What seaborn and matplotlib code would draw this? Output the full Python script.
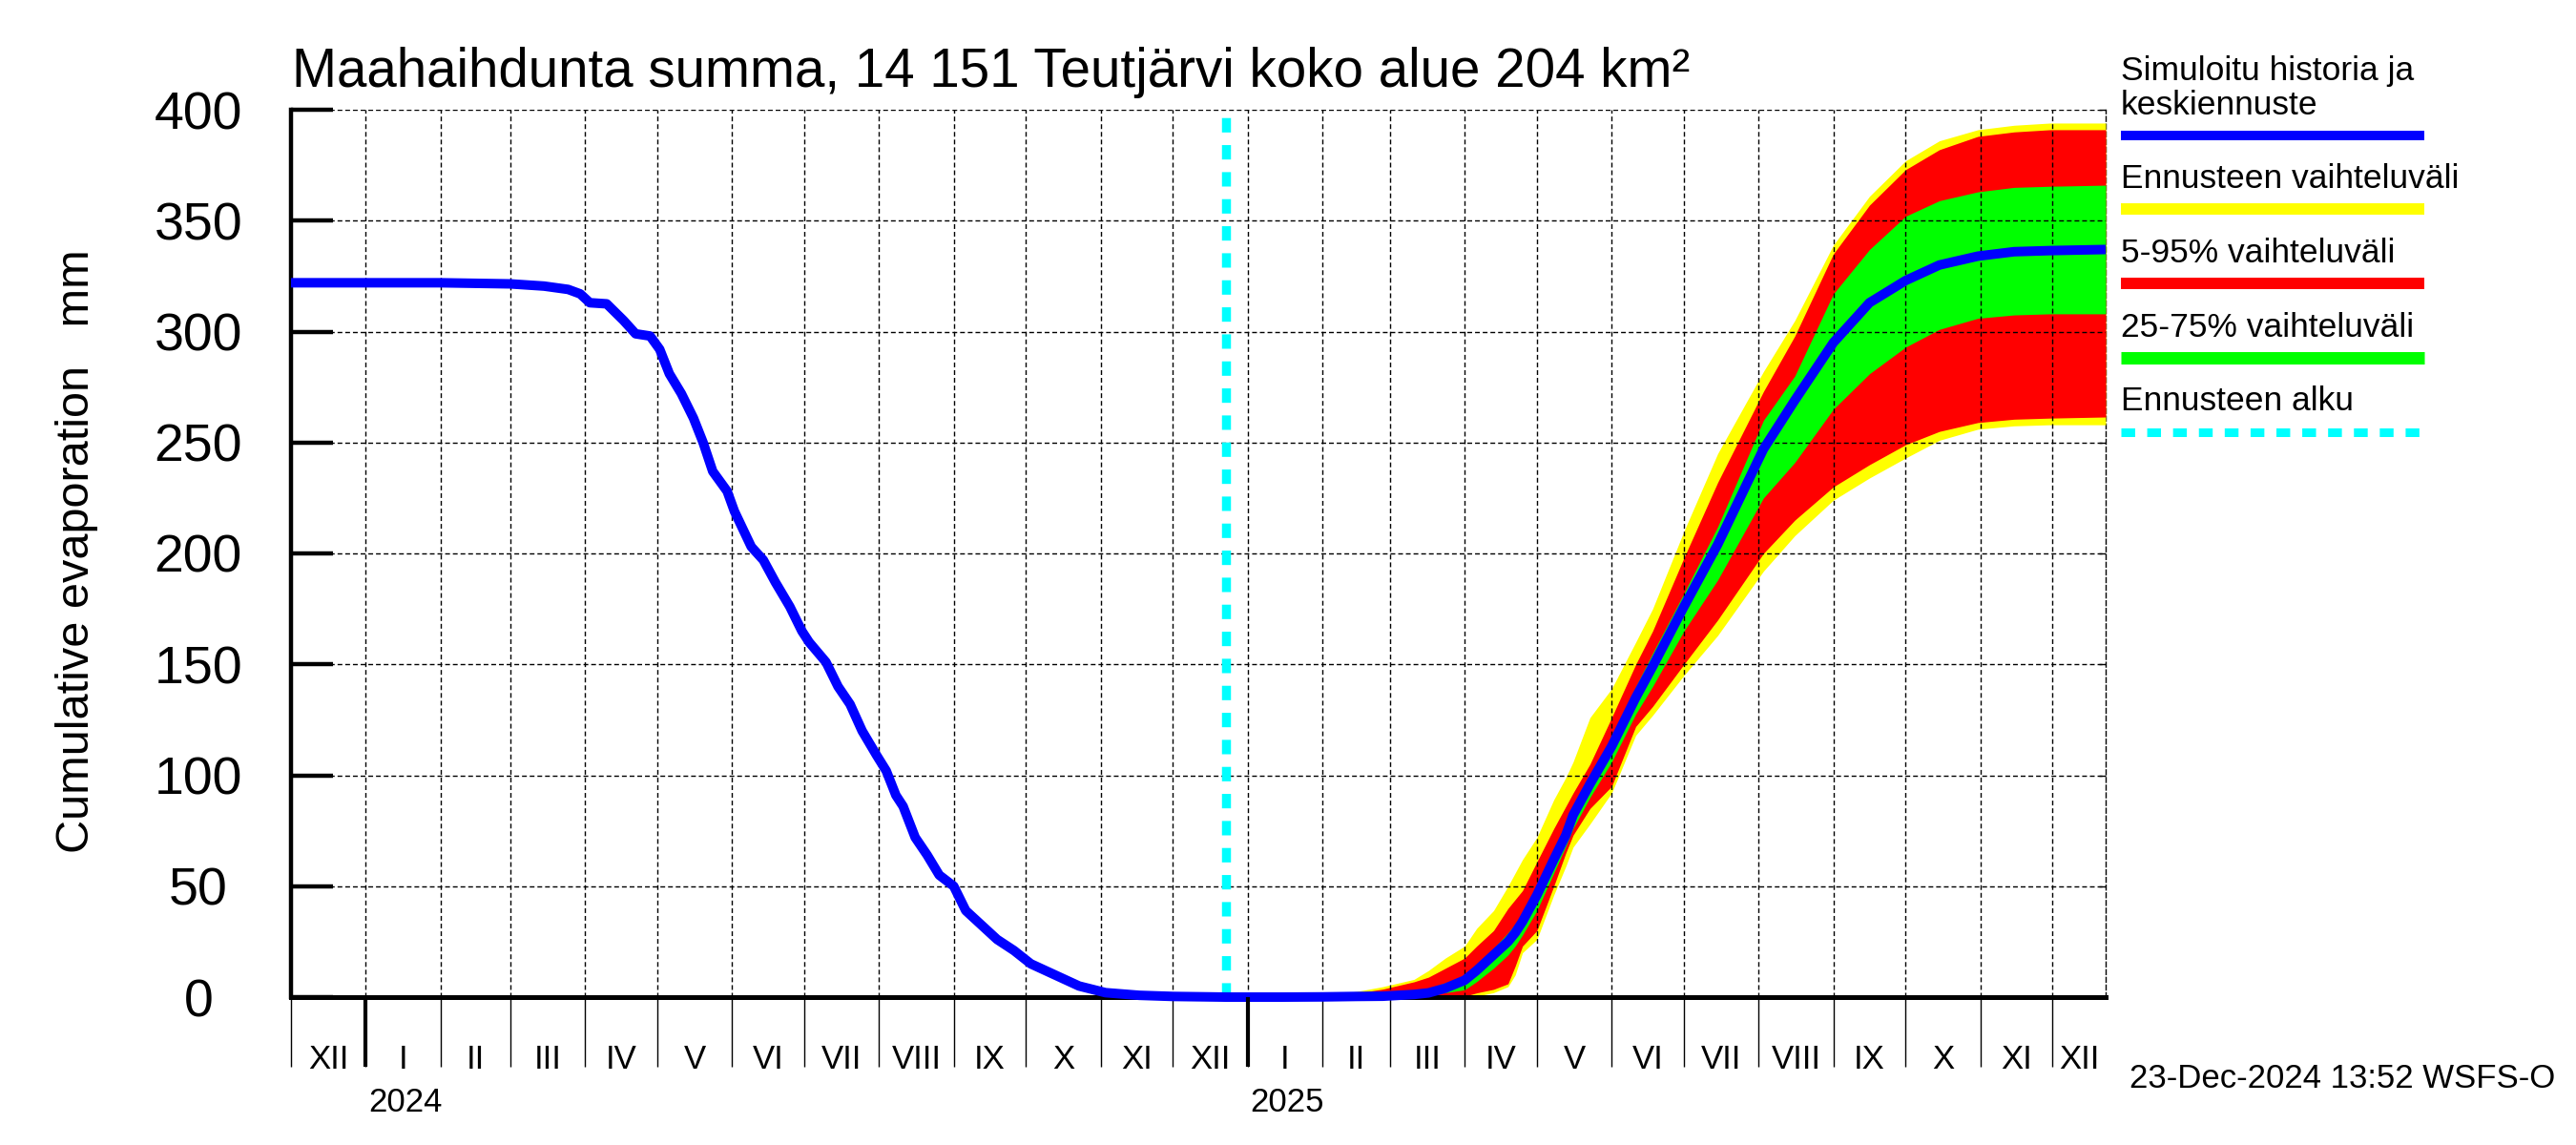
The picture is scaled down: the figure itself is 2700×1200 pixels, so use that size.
import numpy as np
import pandas as pd
import matplotlib
matplotlib.use("Agg")
import matplotlib.pyplot as plt
import matplotlib.transforms as mtransforms
import matplotlib.dates as mdates
from matplotlib.lines import Line2D
import seaborn as sns

# ---------------- data ----------------
hist_dates = ["2023-12-01", "2024-01-01", "2024-02-01", "2024-03-01", "2024-03-15",
              "2024-03-25", "2024-03-30", "2024-04-03", "2024-04-10", "2024-04-17",
              "2024-04-22", "2024-04-28", "2024-05-02", "2024-05-06", "2024-05-11",
              "2024-05-16", "2024-05-20", "2024-05-24", "2024-05-30", "2024-06-02",
              "2024-06-09", "2024-06-14", "2024-06-19", "2024-06-25", "2024-06-30",
              "2024-07-03", "2024-07-10", "2024-07-15", "2024-07-20", "2024-07-25",
              "2024-07-31", "2024-08-04", "2024-08-08", "2024-08-11", "2024-08-16",
              "2024-08-21", "2024-08-26", "2024-09-01", "2024-09-06", "2024-09-12",
              "2024-09-19", "2024-09-26", "2024-10-03", "2024-10-13", "2024-10-23",
              "2024-11-03", "2024-11-17", "2024-12-01", "2024-12-23"]
hist_vals = [322, 322, 322, 321.5, 320.5,
             319, 317, 313, 312.5, 305,
             299, 298, 292, 281, 272,
             261, 250, 237, 228, 219,
             203, 197, 187, 176, 165,
             160, 151, 140, 132, 120,
             109, 102, 91, 86, 72,
             64, 55, 50, 39, 33,
             26, 21, 15, 10, 5,
             2, 0.8, 0.3, 0]

fc_dates = ["2024-12-23", "2025-01-15", "2025-02-01", "2025-02-15", "2025-02-26",
            "2025-03-11", "2025-03-17", "2025-03-24", "2025-04-01", "2025-04-06",
            "2025-04-13", "2025-04-19", "2025-04-22", "2025-04-25", "2025-05-01",
            "2025-05-08", "2025-05-13", "2025-05-16", "2025-05-23", "2025-06-01",
            "2025-06-11", "2025-06-18", "2025-07-01", "2025-07-15", "2025-08-03",
            "2025-08-16", "2025-09-01", "2025-09-16", "2025-10-01", "2025-10-15",
            "2025-10-31", "2025-11-15", "2025-11-30", "2025-12-23"]
yellow_hi = [0, 0.3, 1, 2.5, 4.7, 8, 12, 17.6, 23, 31,
             39, 50, 56, 62, 72, 89, 99, 106, 126, 139,
             160, 175, 210, 245, 282, 305, 339, 361, 377, 386,
             391, 393, 394, 394]
red_hi = [0, 0.2, 0.6, 1.8, 3.6, 6.9, 9, 13, 17.6, 23,
          30, 40, 44, 48, 61, 76, 86, 92, 105, 126,
          150, 165, 198, 232, 273, 298, 335, 357, 373, 382,
          388, 390, 391, 391]
green_hi = [0, 0, 0.3, 0.8, 1.5, 3, 4, 6.5, 9.7, 14,
            22, 29, 33, 38, 49, 66, 78, 86, 100, 116,
            140, 155, 182, 212, 260, 280, 317, 337, 352, 359,
            363, 365, 365.5, 366]
median = [0, 0, 0.1, 0.3, 0.4, 1.2, 1.9, 4, 7.6, 12,
          19, 25, 29, 34, 46, 62, 73, 82, 96, 113,
          135, 149, 176, 204, 247, 269, 295, 313, 323, 330,
          334, 336, 336.5, 337]
green_lo = [0, 0, 0, 0, 0.2, 0.6, 1, 2, 3.3, 7,
            13, 19, 23, 28, 39, 56, 68, 76, 90, 106,
            127.6, 140, 165, 188, 225, 241, 265, 281, 293, 301,
            306, 307.5, 308, 308]
red_lo = [0, 0, 0, 0, 0, 0.2, 0.3, 0.3, 0.4, 1.9,
          3.5, 6, 14, 23, 30, 50, 65, 73, 85, 95,
          122, 131, 150, 170, 200, 215, 230, 240, 249, 255,
          259, 260.5, 261, 261.5]
yellow_lo = [0, 0, 0, 0, 0, 0, 0, 0, 0, 0.4,
             2, 4.7, 10, 20, 26, 46, 59, 67.6, 78, 92,
             118, 127, 145, 163, 192, 208, 224, 234, 243, 251,
             256, 257.5, 258, 258]

forecast_start = "2024-12-23"
x_start, x_end = "2023-12-01", "2025-12-23"
month_labels = ["XII", "I", "II", "III", "IV", "V", "VI", "VII", "VIII", "IX", "X", "XI", "XII",
                "I", "II", "III", "IV", "V", "VI", "VII", "VIII", "IX", "X", "XI", "XII"]
year_dates = ["2024-01-01", "2025-01-01"]
year_labels = ["2024", "2025"]
y_ticks = [0, 50, 100, 150, 200, 250, 300, 350, 400]

title = "Maahaihdunta summa, 14 151 Teutjärvi koko alue 204 km²"
ylabel = "Cumulative evaporation   mm"
stamp = "23-Dec-2024 13:52 WSFS-O"
legend_labels = [["Simuloitu historia ja", "keskiennuste"], ["Ennusteen vaihteluväli"],
                 ["5-95% vaihteluväli"], ["25-75% vaihteluväli"], ["Ennusteen alku"]]

BLUE, YELLOW, RED, GREEN, CYAN = "#0000FF", "#FFFF00", "#FF0000", "#00FF00", "#00FFFF"

# ---------------- style ----------------
sns.set_theme(style="white")
plt.rcParams["font.family"] = ["Liberation Sans", "DejaVu Sans"]
for k in ["text.color", "axes.labelcolor", "xtick.color", "ytick.color", "axes.edgecolor"]:
    plt.rcParams[k] = "black"

W, H = 2700, 1200
L, R, T, B = 305, 2207, 115, 1045
fig = plt.figure(figsize=(W / 100, H / 100), dpi=100)
ax = fig.add_axes([L / W, 1 - B / H, (R - L) / W, (B - T) / H])


def fx(px):
    return px / W


def fy(py):
    return 1 - py / H


fd = pd.to_datetime(fc_dates)
ax.fill_between(fd, yellow_lo, yellow_hi, color=YELLOW, lw=0, zorder=1)
ax.fill_between(fd, red_lo, red_hi, color=RED, lw=0, zorder=1.1)
ax.fill_between(fd, green_lo, green_hi, color=GREEN, lw=0, zorder=1.2)

ax.axvline(pd.Timestamp(forecast_start), color=CYAN, lw=6.8, linestyle=(0, (1.6, 1.4)), zorder=4)

df = pd.DataFrame({"date": pd.to_datetime(hist_dates + fc_dates[1:]),
                   "value": hist_vals + median[1:]})
sns.lineplot(data=df, x="date", y="value", color=BLUE, linewidth=7.2, ax=ax,
             estimator=None, zorder=5, solid_capstyle="butt", clip_on=False)
ax.set_xlabel("")
ax.set_ylabel("")

# axes & grid
month_starts = pd.date_range(x_start, "2025-12-01", freq="MS")
ax.set_xticks(month_starts)
ax.set_xticklabels([])
ax.tick_params(axis="x", which="major", direction="out", length=52.5, width=1.0, bottom=True)
ax.set_yticks(y_ticks)
ax.set_yticklabels([str(v) for v in y_ticks])
ax.tick_params(axis="y", direction="in", length=32, width=3.2, pad=70, labelsize=40, left=True)
for lab in ax.get_yticklabels():
    lab.set_ha("center")
ax.set_axisbelow(False)
ax.grid(True, which="major", axis="both", color="black", lw=1.0, linestyle=(0, (3.6, 2.2)))
ax.spines["top"].set_visible(False)
ax.spines["right"].set_visible(False)
ax.spines["left"].set_linewidth(3.2)
ax.spines["bottom"].set_linewidth(3.6)

sec = ax.secondary_yaxis("right")
sec.set_yticks(y_ticks)
sec.tick_params(direction="in", length=5, width=1, labelright=False)
sec.spines["right"].set_linestyle((0, (3.6, 2.2)))
sec.spines["right"].set_linewidth(1.0)

trans = mtransforms.blended_transform_factory(ax.transData, ax.transAxes)
year_num = mdates.date2num(pd.to_datetime(year_dates))
ax.vlines(year_num, -73 / (B - T), 0, transform=trans, colors="black",
          lw=3, clip_on=False, zorder=6)

xs, xe = pd.Timestamp(x_start), pd.Timestamp(x_end)
edges = list(month_starts) + [xe]
for i, lab in enumerate(month_labels):
    a, b = max(edges[i], xs), min(edges[i + 1], xe)
    mid = mdates.date2num(a + (b - a) / 2)
    ax.text(mid, -(1120 - B) / (B - T), lab, transform=trans, ha="center", va="baseline",
            fontsize=25, clip_on=False)
for xn, lab in zip(year_num, year_labels):
    ax.annotate(lab, xy=(xn, -(1165 - B) / (B - T)), xycoords=trans,
                xytext=(2, 0), textcoords="offset points", ha="left", va="baseline",
                fontsize=25, annotation_clip=False)

ax.set_xlim(xs, xe)
ax.set_ylim(0, 400)

# texts
fig.text(fx(306), fy(91), title, ha="left", va="baseline", fontsize=40.7)
fig.text(fx(81), fy(578), ylabel, rotation=90, ha="center", va="center", fontsize=35)
fig.text(fx(2678), fy(1140), stamp, ha="right", va="baseline", fontsize=25)

# legend
lx0, lx1 = 2223, 2541
fig.text(fx(lx0), fy(84), legend_labels[0][0], ha="left", va="baseline", fontsize=25.5)
fig.text(fx(lx0), fy(120), legend_labels[0][1], ha="left", va="baseline", fontsize=25.5)
fig.add_artist(Line2D([fx(lx0), fx(lx1)], [fy(142), fy(142)], color=BLUE, lw=7.2,
                      solid_capstyle="butt"))
fig.text(fx(lx0), fy(197), legend_labels[1][0], ha="left", va="baseline", fontsize=25.5)
fig.add_artist(Line2D([fx(lx0), fx(lx1)], [fy(219), fy(219)], color=YELLOW, lw=8.6,
                      solid_capstyle="butt"))
fig.text(fx(lx0), fy(275), legend_labels[2][0], ha="left", va="baseline", fontsize=25.5)
fig.add_artist(Line2D([fx(lx0), fx(lx1)], [fy(297), fy(297)], color=RED, lw=8.6,
                      solid_capstyle="butt"))
fig.text(fx(lx0), fy(353), legend_labels[3][0], ha="left", va="baseline", fontsize=25.5)
fig.add_artist(Line2D([fx(lx0), fx(lx1)], [fy(375), fy(375)], color=GREEN, lw=9.4,
                      solid_capstyle="butt"))
fig.text(fx(lx0), fy(430), legend_labels[4][0], ha="left", va="baseline", fontsize=25.5)
fig.add_artist(Line2D([fx(lx0), fx(lx1)], [fy(453), fy(453)], color=CYAN, lw=6.5,
                      linestyle=(0, (1.6, 1.4)), dash_capstyle="butt"))

fig.savefig("out.png", dpi=100)
